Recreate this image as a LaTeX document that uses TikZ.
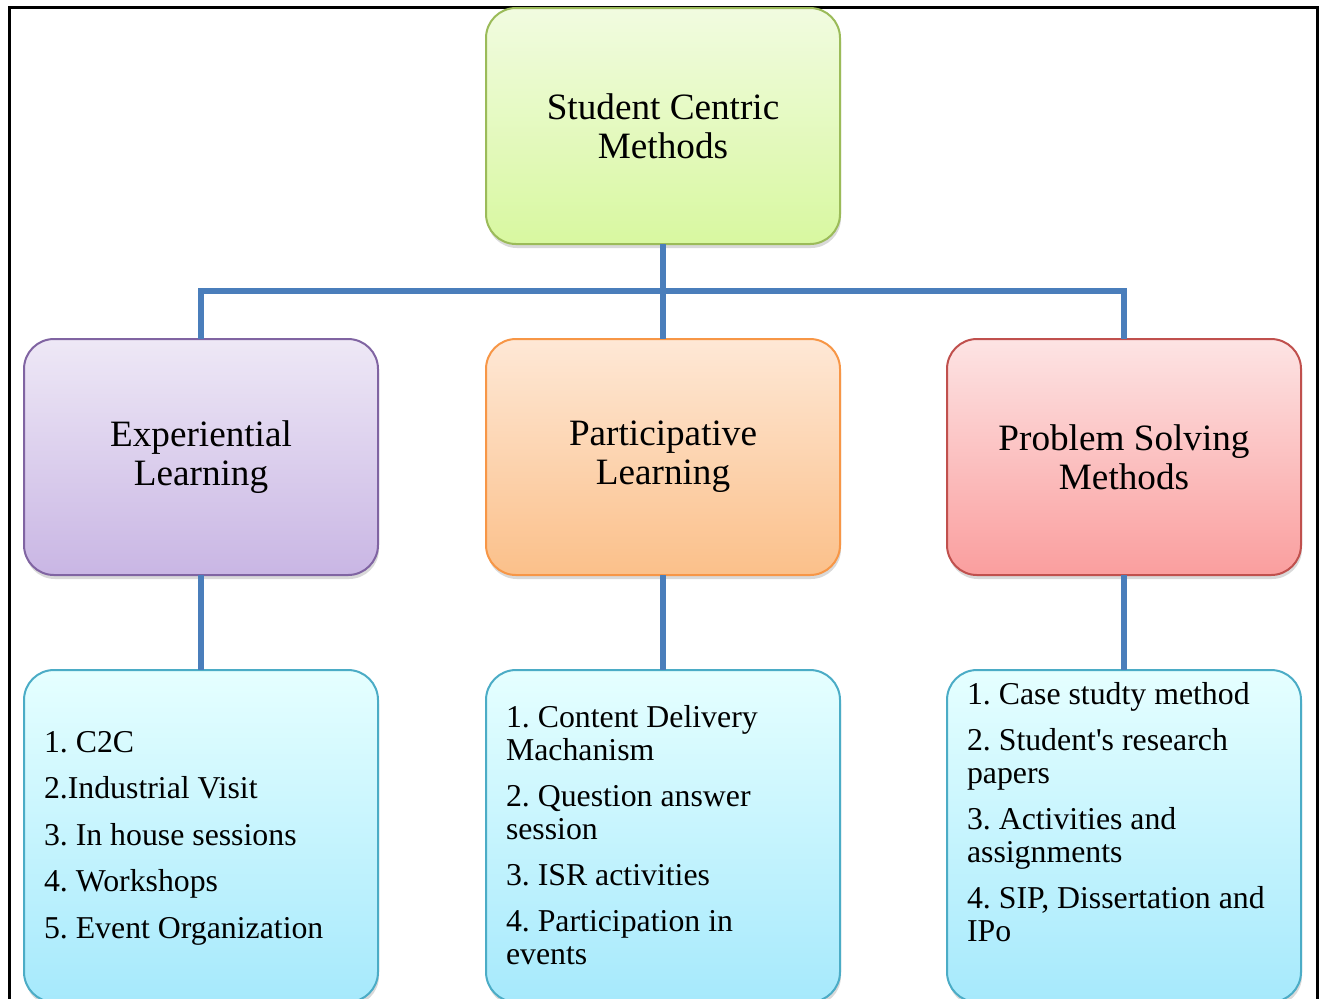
\documentclass[tikz,border=0pt]{standalone}
\usepackage{fontspec}
\setmainfont{Liberation Serif}
\usetikzlibrary{shadows}
\frenchspacing

\definecolor{linkblue}{HTML}{4A7EBB}
\definecolor{greenline}{HTML}{9BBB59}
\definecolor{purpleline}{HTML}{8064A2}
\definecolor{orangeline}{HTML}{F79646}
\definecolor{redline}{HTML}{C0504D}
\definecolor{cyanline}{HTML}{4BACC6}

\begin{document}
\begin{tikzpicture}[x=0.5pt, y=-0.5pt, outer sep=0pt]

\tikzstyle{box}=[draw, rectangle, rounded corners=15pt, line width=1pt, minimum width=177pt, minimum height=118pt, anchor=north west, align=center, font=\fontsize{18.6}{19.5}\selectfont, drop shadow={shadow xshift=0.5pt, shadow yshift=-2pt, opacity=0.3}]
\tikzstyle{listbox}=[box, minimum height=166pt, draw=cyanline, top color=cyan!10, bottom color={rgb,255:red,166;green,233;blue,252}]
\tikzstyle{items}=[anchor=base west, align=left, inner sep=0pt, font=\fontsize{15.9}{16.5}\selectfont]
\tikzstyle{link}=[draw=linkblue, line width=3pt]

\clip (0,0) rectangle (1320,998);
\draw[line width=1.5pt] (9,1010) -- (9,7) -- (1317,7) -- (1317,1010);

% top level
\node[box, draw=greenline, top color={rgb,255:red,241;green,251;blue,224}, bottom color={rgb,255:red,216;green,248;blue,160}] (root) at (486,8) {Student Centric\\Methods};

% second level
\node[box, draw=purpleline, top color={rgb,255:red,238;green,232;blue,246}, bottom color={rgb,255:red,201;green,182;blue,228}] (exp) at (24,339) {Experiential\\Learning};
\node[box, draw=orangeline, top color={rgb,255:red,254;green,232;blue,214}, bottom color={rgb,255:red,251;green,192;blue,138}] (part) at (486,339) {Participative\\Learning};
\node[box, draw=redline, top color={rgb,255:red,253;green,228;blue,228}, bottom color={rgb,255:red,250;green,158;blue,158}] (prob) at (947,339) {Problem Solving\\Methods};

% lists
\node[listbox] (expbox) at (24,670) {};
\node[listbox] (partbox) at (486,670) {};
\node[listbox] (probbox) at (947,670) {};

\node[items] (explist) at (44,938) {1. C2C\\[6.75pt]2.Industrial Visit\\[6.75pt]3. In house sessions\\[6.75pt]4. Workshops\\[6.75pt]5. Event Organization};
\node[items] (partlist) at (506,964) {1. Content Delivery\\Machanism\\[6.5pt]2. Question answer\\session\\[6.5pt]3. ISR activities\\[6.5pt]4. Participation in\\events};
\node[items] (problist) at (967,941) {1. Case studty method\\[6.5pt]2. Student\textquotesingle s research\\papers\\[6.5pt]3. Activities and\\assignments\\[6.5pt]4. SIP, Dissertation and\\IPo};

% connectors
\coordinate (bus) at (663,291);
\draw[link] (root.south) -- (part.north);
\draw[link] (exp.north) |- (bus) -| (prob.north);
\draw[link] (exp.south) -- (expbox.north);
\draw[link] (part.south) -- (partbox.north);
\draw[link] (prob.south) -- (probbox.north);
\end{tikzpicture}
\end{document}
